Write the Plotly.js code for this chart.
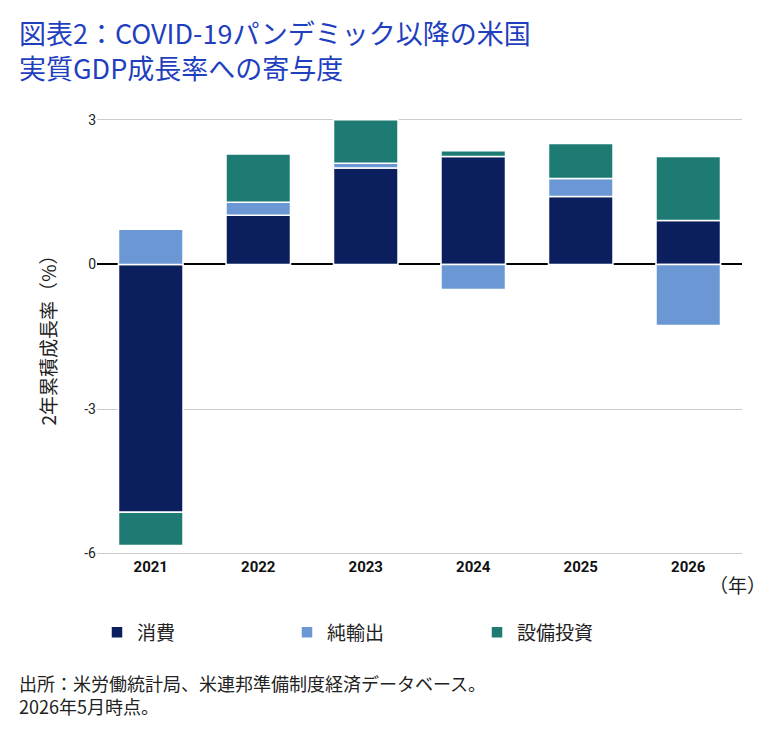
<!DOCTYPE html>
<html><head><meta charset="utf-8">
<script src="https://cdn.plot.ly/plotly-3.0.1.min.js"></script>
<style>body{margin:0;background:#fff}#chart{width:771px;height:745px}</style>
</head><body><div id="chart"></div>
<script>
const years = ['2021', '2022', '2023', '2024', '2025', '2026'];
const consumption = [-5.14, 1.02, 2.0, 2.24, 1.41, 0.91];
const netExports = [0.73, 0.27, 0.1, -0.52, 0.37, -1.27];
const investment = [-0.69, 1.0, 0.9, 0.12, 0.73, 1.33];
const yTicks = [-6, -3, 0, 3];

const font = 'Noto Sans CJK JP, Noto Sans, sans-serif';
const mk = (name, y, color) => ({
    x: years, y: y, name: name, type: 'bar',
    marker: { color: color, line: { color: '#ffffff', width: 1.5 } },
    width: 0.6
});

const traces = [
    mk('消費', consumption, '#0b1f5e'),
    mk('純輸出', netExports, '#6b98d4'),
    mk('設備投資', investment, '#1e7b74')
];

const layout = {
    width: 771, height: 745,
    paper_bgcolor: '#fff', plot_bgcolor: '#fff',
    margin: { l: 97, r: 29, t: 115, b: 189 },
    barmode: 'relative',
    font: { family: font, color: '#222' },
    xaxis: {
        tickfont: { family: 'Roboto, sans-serif', size: 15, color: '#111', weight: 'bold' },
        showline: false, ticks: ''
    },
    yaxis: {
        range: [-6.05, 3.1], tickvals: yTicks, ticktext: yTicks.map(String),
        tickfont: { family: 'Roboto, sans-serif', size: 14, color: '#222' },
        gridcolor: '#cccccc', zeroline: true, zerolinecolor: '#000', zerolinewidth: 1.5,
        showline: false, ticks: '', ticklen: 0,
        title: { text: '2年累積成長率（%）', font: { family: font, size: 19, color: '#222' }, standoff: 22 }
    },
    showlegend: true,
    legend: {
        orientation: 'h', x: 0.0, xanchor: 'left', y: -0.13, yanchor: 'top',
        font: { family: font, size: 19, color: '#222' }, traceorder: 'normal',
        entrywidth: 145
    },
    annotations: [
        { text: '図表2：COVID-19パンデミック以降の米国<br>実質GDP成長率への寄与度', xref: 'paper', yref: 'paper',
          x: -0.124, y: 1.235, xanchor: 'left', yanchor: 'top', align: 'left', showarrow: false,
          font: { family: font, size: 27, color: '#1f3fbf' } },
        { text: '（年）', xref: 'paper', yref: 'paper', x: 1.04, y: -0.03, xanchor: 'right', yanchor: 'top',
          showarrow: false, font: { family: font, size: 19, color: '#222' } },
        { text: '出所：米労働統計局、米連邦準備制度経済データベース。<br>2026年5月時点。', xref: 'paper', yref: 'paper',
          x: -0.124, y: -0.255, xanchor: 'left', yanchor: 'top', align: 'left', showarrow: false,
          font: { family: font, size: 18, color: '#222' } }
    ]
};

Plotly.newPlot('chart', traces, layout, { displayModeBar: false });
</script></body></html>
